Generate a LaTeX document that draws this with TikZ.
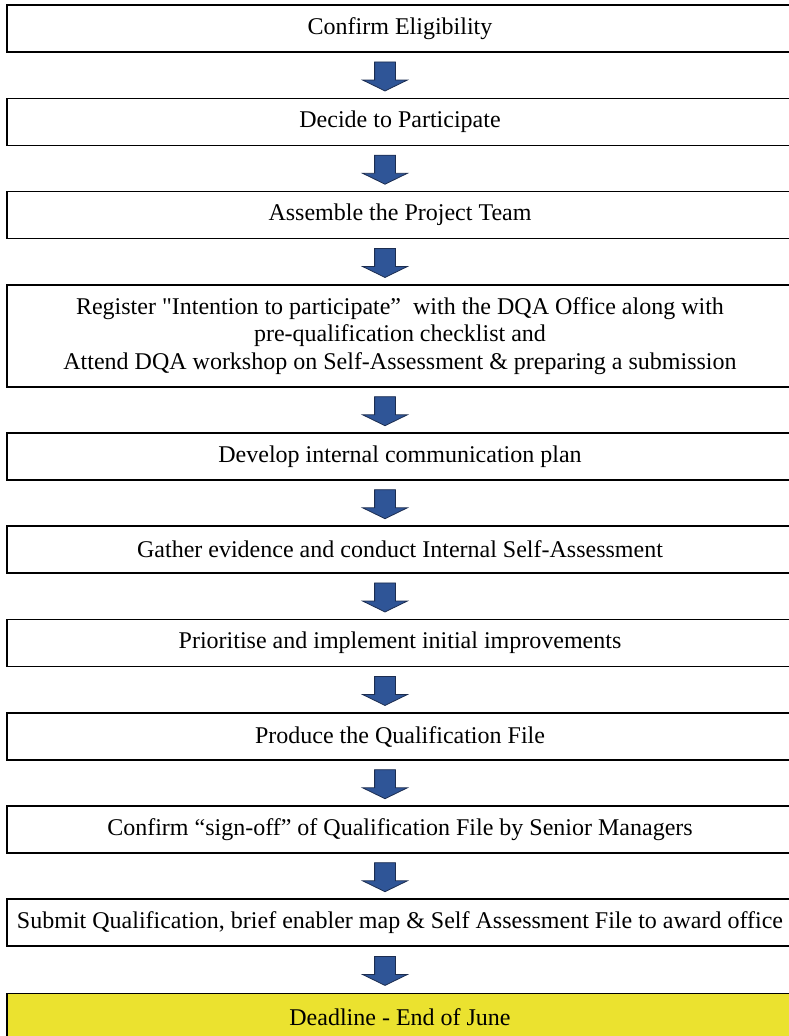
\documentclass[tikz,border=0pt]{standalone}
\usepackage{fontspec}
\setmainfont{Liberation Serif}
\newfontfamily\comillas{Liberation Serif}[Ligatures=TeXOff]
\usetikzlibrary{shapes.arrows}
\definecolor{azulflecha}{RGB}{47,85,151}
\definecolor{bordeflecha}{RGB}{28,45,80}
\definecolor{amarillo}{RGB}{235,226,47}
\tikzset{
  paso/.style={draw, line width=1.5pt, minimum width=786pt, minimum height=47pt,
    inner sep=0pt, align=center, font=\fontsize{24}{27.5}\selectfont},
  flecha/.style={single arrow, rotate=-90, draw=bordeflecha, fill=azulflecha, line width=0.8pt,
    minimum height=29pt, minimum width=0pt, inner xsep=0pt, inner ysep=10pt,
    single arrow head extend=12pt, single arrow tip angle=128, text height=0pt, text depth=0pt}
}
\begin{document}
\begin{tikzpicture}[x=1pt,y=-1pt] % y hacia abajo, como en la imagen
  \useasboundingbox (0,0) rectangle (788,1036);
  \node[paso] (b1) at (400,28.5) {Confirm Eligibility};
  \node[paso] (b2) at (400,122) {Decide to Participate};
  \node[paso] (b3) at (400,215) {Assemble the Project Team};
  \node[paso, minimum height=102pt] (b4) at (400,336) {Register {\comillas"}Intention to participate”\ \ with the DQA Office along with\\pre-qualification checklist and\\Attend DQA workshop on Self-Assessment \& preparing a submission};
  \node[paso] (b5) at (400,456.5) {Develop internal communication plan};
  \node[paso] (b6) at (400,549.5) {Gather evidence and conduct Internal Self-Assessment};
  \node[paso] (b7) at (400,643) {Prioritise and implement initial improvements};
  \node[paso] (b8) at (400,736.5) {Produce the Qualification File};
  \node[paso] (b9) at (400,829.5) {Confirm “sign-off” of Qualification File by Senior Managers};
  \node[paso] (b10) at (400,922.5) {Submit Qualification, brief enabler map \& Self Assessment File to award office};
  \node[paso, fill=amarillo] (b11) at (400,1017) {Deadline - End of June};
  \path ([xshift=-15pt]b1.south) -- ([xshift=-15pt]b2.north) node[pos=0.47,flecha]{};
  \path ([xshift=-15pt]b2.south) -- ([xshift=-15pt]b3.north) node[pos=0.47,flecha]{};
  \path ([xshift=-15pt]b3.south) -- ([xshift=-15pt]b4.north) node[pos=0.47,flecha]{};
  \path ([xshift=-15pt]b4.south) -- ([xshift=-15pt]b5.north) node[pos=0.47,flecha]{};
  \path ([xshift=-15pt]b5.south) -- ([xshift=-15pt]b6.north) node[pos=0.47,flecha]{};
  \path ([xshift=-15pt]b6.south) -- ([xshift=-15pt]b7.north) node[pos=0.47,flecha]{};
  \path ([xshift=-15pt]b7.south) -- ([xshift=-15pt]b8.north) node[pos=0.47,flecha]{};
  \path ([xshift=-15pt]b8.south) -- ([xshift=-15pt]b9.north) node[pos=0.47,flecha]{};
  \path ([xshift=-15pt]b9.south) -- ([xshift=-15pt]b10.north) node[pos=0.47,flecha]{};
  \path ([xshift=-15pt]b10.south) -- ([xshift=-15pt]b11.north) node[pos=0.47,flecha]{};
\end{tikzpicture}
\end{document}
